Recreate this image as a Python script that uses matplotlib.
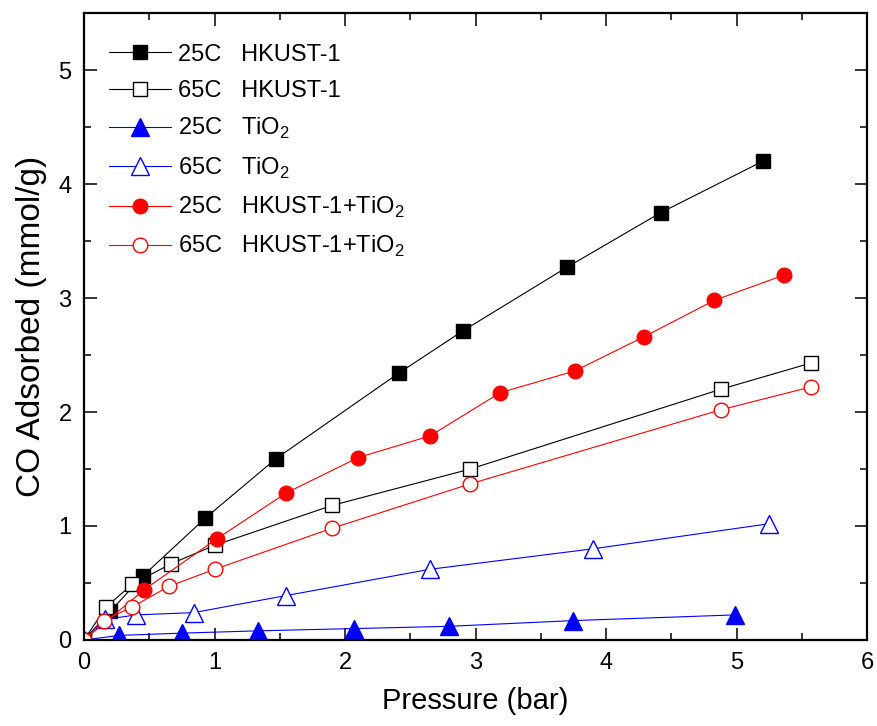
import matplotlib.pyplot as plt
from matplotlib.ticker import MultipleLocator

plt.rcParams['font.family'] = ['Liberation Sans', 'DejaVu Sans']
plt.rcParams['mathtext.fontset'] = 'custom'
plt.rcParams['mathtext.rm'] = 'Liberation Sans'

# data (pressure in bar, CO uptake in mmol/g)
p_hk25 = [0, 0.20, 0.45, 0.93, 1.47, 2.41, 2.90, 3.70, 4.42, 5.20]
q_hk25 = [0, 0.25, 0.56, 1.07, 1.59, 2.34, 2.71, 3.27, 3.75, 4.20]

p_hk65 = [0, 0.17, 0.37, 0.67, 1.00, 1.90, 2.96, 4.88, 5.57]
q_hk65 = [0, 0.29, 0.49, 0.67, 0.83, 1.18, 1.50, 2.20, 2.43]

p_ti25 = [0, 0.27, 0.75, 1.33, 2.07, 2.80, 3.75, 4.99]
q_ti25 = [0, 0.04, 0.06, 0.08, 0.10, 0.12, 0.17, 0.22]

p_ti65 = [0, 0.16, 0.40, 0.84, 1.55, 2.65, 3.90, 5.25]
q_ti65 = [0, 0.18, 0.22, 0.24, 0.39, 0.62, 0.80, 1.02]

p_mix25 = [0, 0.46, 1.02, 1.55, 2.10, 2.65, 3.19, 3.76, 4.29, 4.83, 5.36]
q_mix25 = [0, 0.44, 0.89, 1.29, 1.60, 1.79, 2.17, 2.36, 2.66, 2.98, 3.20]

p_mix65 = [0, 0.15, 0.37, 0.65, 1.00, 1.90, 2.96, 4.88, 5.57]
q_mix65 = [0, 0.17, 0.29, 0.47, 0.62, 0.98, 1.37, 2.02, 2.22]

fig = plt.figure(figsize=(8.77, 7.26), dpi=100)
ax = fig.add_axes([0.0958, 0.1185, 0.893, 0.8635])

lw = 0.8
ax.plot(p_hk25, q_hk25, '-s', color='black', lw=lw, ms=9.5, mfc='black', mec='black',
        label='25C   HKUST-1')
ax.plot(p_hk65, q_hk65, '-s', color='black', lw=lw, ms=9.5, mfc='white', mec='black', mew=1,
        label='65C   HKUST-1')
ax.plot(p_ti25, q_ti25, '-^', color='blue', lw=lw, ms=13, mfc='blue', mec='blue',
        label='25C   TiO$_2$')
ax.plot(p_ti65, q_ti65, '-^', color='blue', lw=lw, ms=13, mfc='white', mec='blue', mew=1,
        label='65C   TiO$_2$')
ax.plot(p_mix25, q_mix25, '-o', color='red', lw=lw, ms=10.5, mfc='red', mec='red',
        label='25C   HKUST-1+TiO$_2$')
ax.plot(p_mix65, q_mix65, '-o', color='red', lw=lw, ms=10.5, mfc='white', mec='red', mew=1,
        label='65C   HKUST-1+TiO$_2$')

ax.set_xlim(0, 6)
ax.set_ylim(0, 5.5)
ax.xaxis.set_major_locator(MultipleLocator(1))
ax.xaxis.set_minor_locator(MultipleLocator(0.5))
ax.yaxis.set_major_locator(MultipleLocator(1))
ax.yaxis.set_minor_locator(MultipleLocator(0.5))
ax.tick_params(which='both', direction='in', top=True, right=True, width=1.1)
ax.tick_params(which='major', length=9, labelsize=17, pad=9)
ax.tick_params(which='minor', length=5)
for s in ax.spines.values():
    s.set_linewidth(1.6)

ax.set_xlabel('Pressure (bar)', fontsize=21, labelpad=9)
ax.set_ylabel('CO Adsorbed (mmol/g)', fontsize=24, labelpad=8)

ax.legend(loc='upper left', bbox_to_anchor=(0.005, 0.985), frameon=False, fontsize=17,
          handlelength=2.6, handletextpad=0.3, labelspacing=0.6)

fig.savefig('out.png', dpi=100)
